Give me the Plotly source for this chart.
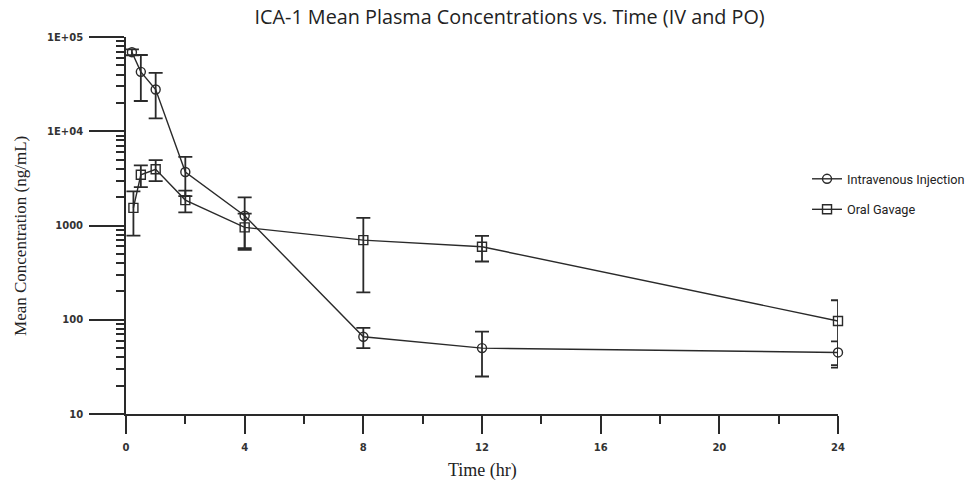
import plotly.graph_objects as go

# ---- data ----
iv_time = [0.2, 0.5, 1, 2, 4, 8, 12, 24]
iv_mean = [69000, 42700, 27700, 3700, 1270, 66, 50, 45]
iv_sd = [5000, 21750, 14000, 1650, 720, 16, 25, 14]

po_time = [0.25, 0.5, 1, 2, 4, 8, 12, 24]
po_mean = [1540, 3450, 3950, 1860, 955, 700, 595, 97]
po_sd = [760, 900, 1000, 480, 380, 505, 180, 64]

x_ticks = [0, 4, 8, 12, 16, 20, 24]
x_minor = [2, 6, 10, 14, 18, 22]
y_ticks = [10, 100, 1000, 10000, 100000]
y_ticktext = ["10", "100", "1000", "1E+04", "1E+05"]
y_minor = [m * d for d in (10, 100, 1000, 10000) for m in range(2, 10)]

series_names = ["Intravenous Injection", "Oral Gavage"]

ink = "#2a2a2a"

fig = go.Figure()
fig.add_trace(go.Scatter(
    x=iv_time, y=iv_mean, name=series_names[0], mode="lines+markers",
    legendgroup="iv",
    line=dict(color=ink, width=1.4),
    marker=dict(symbol="circle-open", size=9, color=ink, line=dict(width=1.4, color=ink)),
    error_y=dict(type="data", array=iv_sd, symmetric=True, color=ink, thickness=1.8, width=7),
    cliponaxis=False,
))
fig.add_trace(go.Scatter(
    x=po_time, y=po_mean, name=series_names[1], mode="lines+markers",
    legendgroup="po",
    line=dict(color=ink, width=1.4),
    marker=dict(symbol="square-open", size=9, color=ink, line=dict(width=1.4, color=ink)),
    error_y=dict(type="data", array=po_sd, symmetric=True, color=ink, thickness=1.8, width=7),
    cliponaxis=False,
))

tickfont = dict(family="DejaVu Sans", size=10, color="#333", weight="bold")

fig.update_layout(
    width=967, height=485,
    margin=dict(l=126, r=129, t=37, b=71, autoexpand=False),
    paper_bgcolor="white", plot_bgcolor="white",
    title=dict(text="ICA-1 Mean Plasma Concentrations vs. Time (IV and PO)",
               x=0.527, xanchor="center", y=0.965, yanchor="middle",
               font=dict(family="Open Sans", size=19.8, color="#222")),
    xaxis=dict(
        range=[0, 24], showgrid=False, zeroline=False,
        showline=True, linecolor=ink, linewidth=1.8,
        tickmode="array", tickvals=x_ticks, ticks="outside", ticklen=18,
        tickwidth=1.8, tickcolor=ink, tickfont=tickfont, ticklabelstandoff=5,
        minor=dict(tickmode="array", tickvals=x_minor, ticks="outside", ticklen=8,
                   tickwidth=1.5, tickcolor=ink, showgrid=False),
    ),
    yaxis=dict(
        type="log", range=[1, 5], showgrid=False, zeroline=False,
        showline=True, linecolor=ink, linewidth=1.8,
        tickmode="array", tickvals=y_ticks, ticktext=y_ticktext,
        ticks="outside", ticklen=35, tickwidth=1.8, tickcolor=ink, tickfont=tickfont,
        ticklabelstandoff=4,
        minor=dict(tickmode="array", tickvals=y_minor, ticks="outside", ticklen=8,
                   tickwidth=1.5, tickcolor=ink, showgrid=False),
    ),
    legend=dict(x=0.9565, xanchor="left", y=0.663, yanchor="top",
                font=dict(family="Roboto", size=12.7, color="#222"),
                tracegroupgap=11, bgcolor="rgba(0,0,0,0)"),
    annotations=[
        dict(text="Mean Concentration (ng/mL)", textangle=-90, xref="paper", yref="paper",
             x=-0.149, y=0.472, xanchor="center", yanchor="middle", showarrow=False,
             font=dict(family="Liberation Serif", size=17, color="#222")),
        dict(text="Time (hr)", xref="paper", yref="paper",
             x=0.501, y=-0.151, xanchor="center", yanchor="middle", showarrow=False,
             font=dict(family="Liberation Serif", size=18, color="#222")),
    ],
)

fig.write_html(
    "out.html",
    config={"displayModeBar": False},
    post_script="document.body.style.margin='0';document.body.style.overflow='hidden';",
)
